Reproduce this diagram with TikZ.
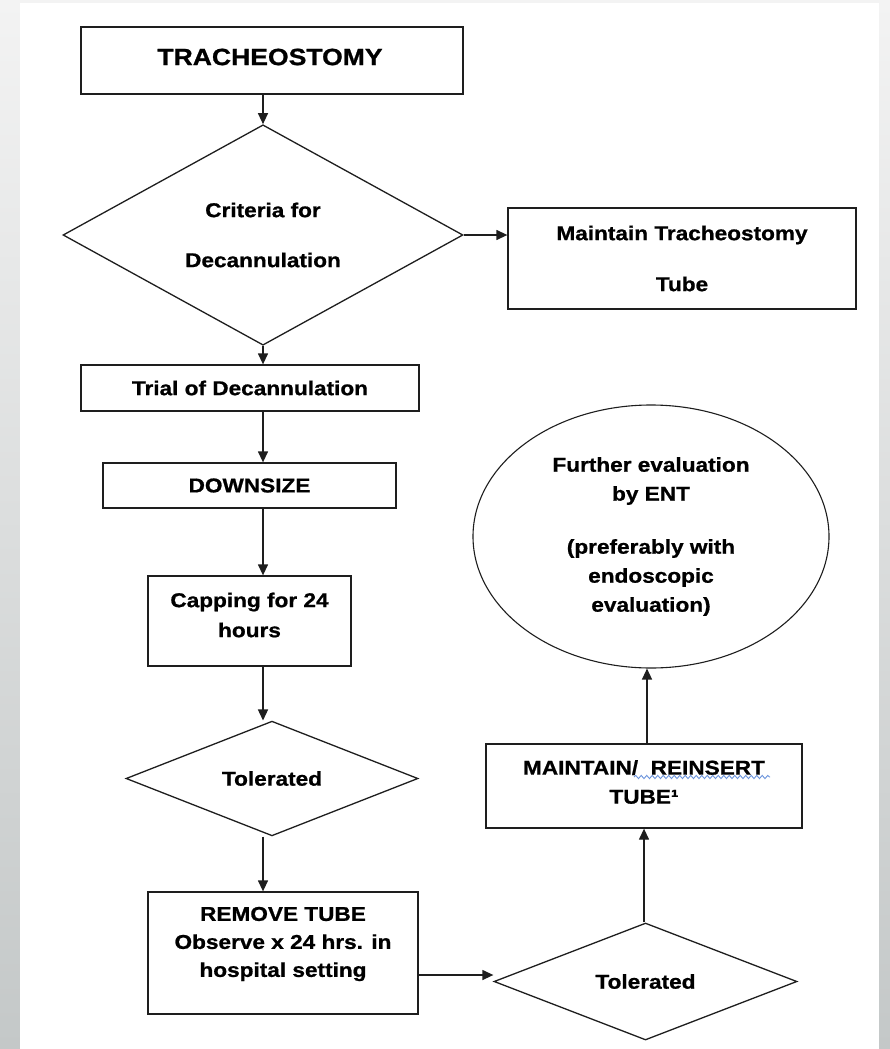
\documentclass[tikz,border=0pt]{standalone}
\usepackage{fontspec}
\newfontfamily\flowfont{Liberation Sans}[FakeStretch=1.13, FakeBold=0.9]
\usetikzlibrary{shapes.geometric,arrows.meta,decorations.pathmorphing}
\definecolor{bgtop}{HTML}{F3F3F3}
\definecolor{bgbot}{HTML}{C4C8C8}
\definecolor{inkline}{HTML}{1E1E1E}
\definecolor{squiggle}{HTML}{6A93DC}
\begin{document}
\begin{tikzpicture}[x=1pt,y=-1pt,
  every node/.style={font=\flowfont\bfseries\fontsize{20}{29}\selectfont,
    align=center, inner sep=0pt, text=black},
  box/.style={draw=inkline, line width=1.3pt, rectangle},
  dia/.style={draw=inkline, line width=1.3pt, diamond},
  oval/.style={draw=inkline, line width=1.1pt, ellipse},
  flow/.style={draw=inkline, line width=1.3pt, -{Triangle[length=11pt,width=10pt]}},
  wavy/.style={draw=squiggle, line width=0.9pt, decorate,
    decoration={snake, amplitude=1.6pt, segment length=5.5pt}},
]
% page and margins
\fill[top color=bgtop, bottom color=bgbot] (0,0) rectangle (890,1049);
\fill[white] (20,3) rectangle (879,1049);
\useasboundingbox (0,0) rectangle (890,1049);

% left column
\node[box, minimum width=382pt, minimum height=67pt] (trach) at (272,60.5) {};
\node[font=\flowfont\bfseries\fontsize{23.5}{28}\selectfont] (trachtxt) at (270,57) {TRACHEOSTOMY};

\node[dia, minimum width=400pt, minimum height=188pt] (crit) at (263,235)
  {Criteria for\\[21pt]Decannulation};

\node[box, minimum width=348pt, minimum height=101pt] (maint) at (682,258.5)
  {Maintain Tracheostomy\\[22pt]Tube};

\node[box, minimum width=338pt, minimum height=46pt] (trial) at (250,388)
  {Trial of Decannulation};

\node[box, minimum width=293pt, minimum height=45pt] (down) at (249.5,485.5)
  {DOWNSIZE};

\node[box, minimum width=203pt, minimum height=90pt] (cap) at (249.5,621) {};
\node (captxt) at (249.5,615) {Capping for 24\\[1pt]hours};

\node[dia, minimum width=292pt, minimum height=91pt] (tol1) at (272,778.5) {Tolerated};

\node[box, minimum width=270pt, minimum height=122pt] (remove) at (283,953) {};
\node (removetxt) at (283,944)
  {REMOVE TUBE\\[-1pt]Observe x 24 hrs. in\\[-1pt]hospital setting};

% right column
\node[dia, minimum width=303pt, minimum height=117pt] (tol2) at (645.5,981.5) {Tolerated};

\node[box, minimum width=316pt, minimum height=84pt] (reins) at (644,786) {};
\node (reinstxt) at (644,782) {MAINTAIN/~~REINSERT\\TUBE¹};
\draw[wavy] (634,777) -- (770,777);

\node[oval, minimum width=356pt, minimum height=263pt] (ent) at (651,536.5)
  {Further evaluation\\by ENT\\[24pt](preferably with\\endoscopic\\evaluation)};

% connectors
\draw[flow] (trach.south -| crit.north) -- (crit.north);
\draw[flow] (crit.east) -- (crit.east -| maint.west);
\draw[flow] (crit.south) -- (crit.south |- trial.north);
\draw[flow] (trial.south -| crit.south) -- (crit.south |- down.north);
\draw[flow] (down.south -| crit.south) -- (crit.south |- cap.north);
\draw[flow] (cap.south -| crit.south) -- (crit.south |- tol1.north);
\draw[flow] (tol1.south -| crit.south) -- (crit.south |- remove.north);
\draw[flow] ([yshift=-22pt]remove.east) -- ([yshift=-22pt]remove.east -| tol2.west);
\draw[flow] (tol2.north -| reins.south) -- (reins.south);
\draw[flow] ([xshift=3pt]reins.north) -- ([xshift=3pt]reins.north |- ent.south);
\end{tikzpicture}
\end{document}
